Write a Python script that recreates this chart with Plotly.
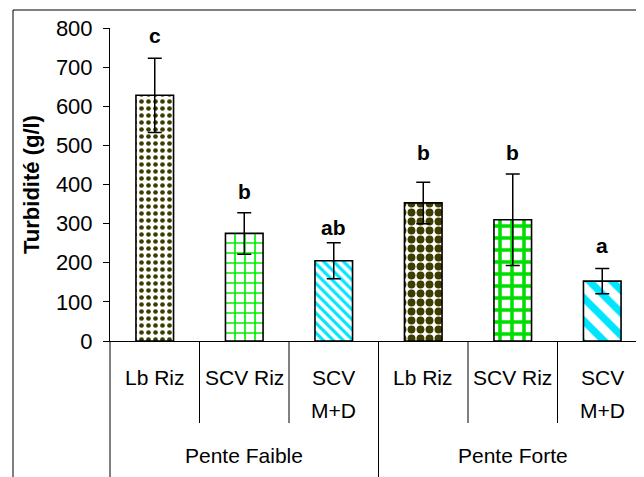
import plotly.graph_objects as go

groups = ["Pente Faible"] * 3 + ["Pente Forte"] * 3
treatments = ["Lb Riz", "SCV Riz", "SCV<br>M+D", "Lb Riz", "SCV Riz", "SCV<br>M+D"]
turbidity = [628, 275, 205, 353, 310, 153]
errors = [95, 53, 46, 53, 117, 32]
letters = ["c", "b", "ab", "b", "b", "a"]
letter_y = [780, 381, 289, 483, 483, 245]

# pattern per bar: (shape, fg colour, size, solidity)
patterns = [
    (".", "#3d3d00", 7, 0.35),
    ("+", "#00ee00", 10, 0.3),
    ("\\", "#00e5ff", 7, 0.45),
    (".", "#3d3d00", 9, 0.6),
    ("+", "#00dd00", 12, 0.5),
    ("\\", "#00e5ff", 16, 0.45),
]

font_family = "Liberation Sans, Arial, sans-serif"

# the page body adds an 8px offset, so margins are given in screen pixels minus 8
OFF = 8
W, H = 644, 477
M_L, M_R, M_T, M_B = 110 - OFF, 5, 28 - OFF, 477 - (341 - OFF)
plot_h = H - M_T - M_B
plot_w = W - M_L - M_R


def py(ypx):
    # screen pixel row -> paper y
    return (H - M_B - (ypx - OFF)) / plot_h


def px(xpx):
    return (xpx - OFF - M_L) / plot_w


n = len(treatments)

fig = go.Figure()
fig.add_trace(
    go.Bar(
        x=[groups, treatments],
        y=turbidity,
        width=0.42,
        marker=dict(
            color="white",
            line=dict(color="black", width=1.6),
            pattern=dict(
                shape=[p[0] for p in patterns],
                fgcolor=[p[1] for p in patterns],
                bgcolor="white",
                size=[p[2] for p in patterns],
                solidity=[p[3] for p in patterns],
                fillmode="replace",
            ),
        ),
        error_y=dict(type="data", array=errors, color="black", thickness=1.5, width=7),
        showlegend=False,
    )
)

# significance letters
for i, (ly, txt) in enumerate(zip(letter_y, letters)):
    fig.add_annotation(
        x=i, xref="x", y=ly, yref="y",
        text=f"<b>{txt}</b>", showarrow=False,
        font=dict(size=21, color="black"),
    )

# category labels (manual two-level axis like Excel)
for i, lab in enumerate(treatments):
    for k, line in enumerate(lab.split("<br>")):
        fig.add_annotation(
            x=i, xref="x", y=py(377 + 33 * k), yref="paper",
            text=line, showarrow=False, yanchor="middle",
            font=dict(size=21, color="black"),
        )

group_names = list(dict.fromkeys(groups))
for gname in group_names:
    idx = [i for i, g in enumerate(groups) if g == gname]
    fig.add_annotation(
        x=(idx[0] + idx[-1]) / 2, xref="x", y=py(455), yref="paper",
        text=gname, showarrow=False, yanchor="middle",
        font=dict(size=21, color="black"),
    )

# separators
for i in range(n + 1):
    xb = i / n
    is_group_edge = i == 0 or i == n or groups[i] != groups[i - 1]
    fig.add_shape(
        type="line", xref="paper", yref="paper",
        x0=xb, x1=xb, y0=0, y1=py(490) if is_group_edge else py(423),
        line=dict(color="black", width=1),
    )

# outer frame (left and top edges; the rest falls outside the picture)
fig.add_shape(
    type="line", xref="paper", yref="paper",
    x0=px(13), x1=px(13), y0=py(500), y1=py(10),
    line=dict(color="black", width=1),
)
fig.add_shape(
    type="line", xref="paper", yref="paper",
    x0=px(13), x1=px(660), y0=py(10), y1=py(10),
    line=dict(color="black", width=1.2),
)

fig.update_layout(
    width=W,
    height=H,
    paper_bgcolor="white",
    plot_bgcolor="white",
    margin=dict(l=M_L, r=M_R, t=M_T, b=M_B, autoexpand=False),
    font=dict(family=font_family, color="black", size=21),
    xaxis=dict(
        type="multicategory",
        range=[-0.5, n - 0.5],
        showline=True,
        linecolor="black",
        linewidth=1,
        ticks="",
        showticklabels=False,
        showdividers=False,
        showgrid=False,
        automargin=False,
    ),
    yaxis=dict(
        range=[0, 800],
        dtick=100,
        ticks="outside",
        ticklen=6,
        tickcolor="black",
        ticklabelstandoff=6,
        showline=True,
        linecolor="black",
        linewidth=1,
        showgrid=False,
        zeroline=False,
        automargin=False,
        tickfont=dict(size=22),
        title=dict(text="<b>Turbidité (g/l)</b>", font=dict(size=22), standoff=10),
    ),
)

fig.write_html("out.html")
